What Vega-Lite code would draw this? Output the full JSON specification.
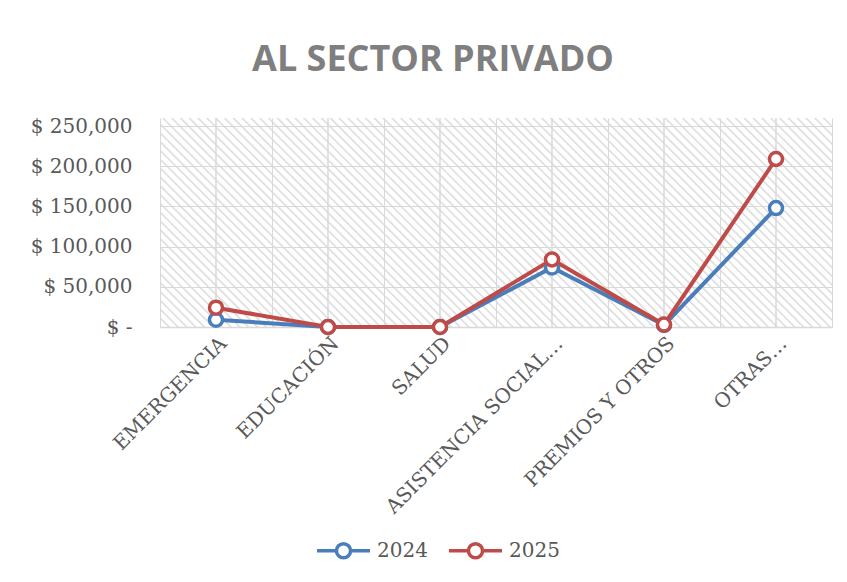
{
  "$schema": "https://vega.github.io/schema/vega-lite/v6.json",
  "width": 672,
  "height": 209,
  "autosize": "none",
  "padding": {"left": 160, "top": 118, "right": 15, "bottom": 255},
  "background": "white",
  "config": {
    "view": {
      "stroke": null,
      "fill": {"gradient": "linear", "x1": 0, "y1": 1, "x2": 1.1955, "y2": 0.6282, "stops": [
{"offset":0,"color":"#d8d8d8"},{"offset":0.003,"color":"#ffffff"},{"offset":0.0085,"color":"#ffffff"},
{"offset":0.01,"color":"#d8d8d8"},{"offset":0.013,"color":"#ffffff"},{"offset":0.0185,"color":"#ffffff"},
{"offset":0.02,"color":"#d8d8d8"},{"offset":0.023,"color":"#ffffff"},{"offset":0.0285,"color":"#ffffff"},
{"offset":0.03,"color":"#d8d8d8"},{"offset":0.033,"color":"#ffffff"},{"offset":0.0385,"color":"#ffffff"},
{"offset":0.04,"color":"#d8d8d8"},{"offset":0.043,"color":"#ffffff"},{"offset":0.0485,"color":"#ffffff"},
{"offset":0.05,"color":"#d8d8d8"},{"offset":0.053,"color":"#ffffff"},{"offset":0.0585,"color":"#ffffff"},
{"offset":0.06,"color":"#d8d8d8"},{"offset":0.063,"color":"#ffffff"},{"offset":0.0685,"color":"#ffffff"},
{"offset":0.07,"color":"#d8d8d8"},{"offset":0.073,"color":"#ffffff"},{"offset":0.0785,"color":"#ffffff"},
{"offset":0.08,"color":"#d8d8d8"},{"offset":0.083,"color":"#ffffff"},{"offset":0.0885,"color":"#ffffff"},
{"offset":0.09,"color":"#d8d8d8"},{"offset":0.093,"color":"#ffffff"},{"offset":0.0985,"color":"#ffffff"},
{"offset":0.1,"color":"#d8d8d8"},{"offset":0.103,"color":"#ffffff"},{"offset":0.1085,"color":"#ffffff"},
{"offset":0.11,"color":"#d8d8d8"},{"offset":0.113,"color":"#ffffff"},{"offset":0.1185,"color":"#ffffff"},
{"offset":0.12,"color":"#d8d8d8"},{"offset":0.123,"color":"#ffffff"},{"offset":0.1285,"color":"#ffffff"},
{"offset":0.13,"color":"#d8d8d8"},{"offset":0.133,"color":"#ffffff"},{"offset":0.1385,"color":"#ffffff"},
{"offset":0.14,"color":"#d8d8d8"},{"offset":0.143,"color":"#ffffff"},{"offset":0.1485,"color":"#ffffff"},
{"offset":0.15,"color":"#d8d8d8"},{"offset":0.153,"color":"#ffffff"},{"offset":0.1585,"color":"#ffffff"},
{"offset":0.16,"color":"#d8d8d8"},{"offset":0.163,"color":"#ffffff"},{"offset":0.1685,"color":"#ffffff"},
{"offset":0.17,"color":"#d8d8d8"},{"offset":0.173,"color":"#ffffff"},{"offset":0.1785,"color":"#ffffff"},
{"offset":0.18,"color":"#d8d8d8"},{"offset":0.183,"color":"#ffffff"},{"offset":0.1885,"color":"#ffffff"},
{"offset":0.19,"color":"#d8d8d8"},{"offset":0.193,"color":"#ffffff"},{"offset":0.1985,"color":"#ffffff"},
{"offset":0.2,"color":"#d8d8d8"},{"offset":0.203,"color":"#ffffff"},{"offset":0.2085,"color":"#ffffff"},
{"offset":0.21,"color":"#d8d8d8"},{"offset":0.213,"color":"#ffffff"},{"offset":0.2185,"color":"#ffffff"},
{"offset":0.22,"color":"#d8d8d8"},{"offset":0.223,"color":"#ffffff"},{"offset":0.2285,"color":"#ffffff"},
{"offset":0.23,"color":"#d8d8d8"},{"offset":0.233,"color":"#ffffff"},{"offset":0.2385,"color":"#ffffff"},
{"offset":0.24,"color":"#d8d8d8"},{"offset":0.243,"color":"#ffffff"},{"offset":0.2485,"color":"#ffffff"},
{"offset":0.25,"color":"#d8d8d8"},{"offset":0.253,"color":"#ffffff"},{"offset":0.2585,"color":"#ffffff"},
{"offset":0.26,"color":"#d8d8d8"},{"offset":0.263,"color":"#ffffff"},{"offset":0.2685,"color":"#ffffff"},
{"offset":0.27,"color":"#d8d8d8"},{"offset":0.273,"color":"#ffffff"},{"offset":0.2785,"color":"#ffffff"},
{"offset":0.28,"color":"#d8d8d8"},{"offset":0.283,"color":"#ffffff"},{"offset":0.2885,"color":"#ffffff"},
{"offset":0.29,"color":"#d8d8d8"},{"offset":0.293,"color":"#ffffff"},{"offset":0.2985,"color":"#ffffff"},
{"offset":0.3,"color":"#d8d8d8"},{"offset":0.303,"color":"#ffffff"},{"offset":0.3085,"color":"#ffffff"},
{"offset":0.31,"color":"#d8d8d8"},{"offset":0.313,"color":"#ffffff"},{"offset":0.3185,"color":"#ffffff"},
{"offset":0.32,"color":"#d8d8d8"},{"offset":0.323,"color":"#ffffff"},{"offset":0.3285,"color":"#ffffff"},
{"offset":0.33,"color":"#d8d8d8"},{"offset":0.333,"color":"#ffffff"},{"offset":0.3385,"color":"#ffffff"},
{"offset":0.34,"color":"#d8d8d8"},{"offset":0.343,"color":"#ffffff"},{"offset":0.3485,"color":"#ffffff"},
{"offset":0.35,"color":"#d8d8d8"},{"offset":0.353,"color":"#ffffff"},{"offset":0.3585,"color":"#ffffff"},
{"offset":0.36,"color":"#d8d8d8"},{"offset":0.363,"color":"#ffffff"},{"offset":0.3685,"color":"#ffffff"},
{"offset":0.37,"color":"#d8d8d8"},{"offset":0.373,"color":"#ffffff"},{"offset":0.3785,"color":"#ffffff"},
{"offset":0.38,"color":"#d8d8d8"},{"offset":0.383,"color":"#ffffff"},{"offset":0.3885,"color":"#ffffff"},
{"offset":0.39,"color":"#d8d8d8"},{"offset":0.393,"color":"#ffffff"},{"offset":0.3985,"color":"#ffffff"},
{"offset":0.4,"color":"#d8d8d8"},{"offset":0.403,"color":"#ffffff"},{"offset":0.4085,"color":"#ffffff"},
{"offset":0.41,"color":"#d8d8d8"},{"offset":0.413,"color":"#ffffff"},{"offset":0.4185,"color":"#ffffff"},
{"offset":0.42,"color":"#d8d8d8"},{"offset":0.423,"color":"#ffffff"},{"offset":0.4285,"color":"#ffffff"},
{"offset":0.43,"color":"#d8d8d8"},{"offset":0.433,"color":"#ffffff"},{"offset":0.4385,"color":"#ffffff"},
{"offset":0.44,"color":"#d8d8d8"},{"offset":0.443,"color":"#ffffff"},{"offset":0.4485,"color":"#ffffff"},
{"offset":0.45,"color":"#d8d8d8"},{"offset":0.453,"color":"#ffffff"},{"offset":0.4585,"color":"#ffffff"},
{"offset":0.46,"color":"#d8d8d8"},{"offset":0.463,"color":"#ffffff"},{"offset":0.4685,"color":"#ffffff"},
{"offset":0.47,"color":"#d8d8d8"},{"offset":0.473,"color":"#ffffff"},{"offset":0.4785,"color":"#ffffff"},
{"offset":0.48,"color":"#d8d8d8"},{"offset":0.483,"color":"#ffffff"},{"offset":0.4885,"color":"#ffffff"},
{"offset":0.49,"color":"#d8d8d8"},{"offset":0.493,"color":"#ffffff"},{"offset":0.4985,"color":"#ffffff"},
{"offset":0.5,"color":"#d8d8d8"},{"offset":0.503,"color":"#ffffff"},{"offset":0.5085,"color":"#ffffff"},
{"offset":0.51,"color":"#d8d8d8"},{"offset":0.513,"color":"#ffffff"},{"offset":0.5185,"color":"#ffffff"},
{"offset":0.52,"color":"#d8d8d8"},{"offset":0.523,"color":"#ffffff"},{"offset":0.5285,"color":"#ffffff"},
{"offset":0.53,"color":"#d8d8d8"},{"offset":0.533,"color":"#ffffff"},{"offset":0.5385,"color":"#ffffff"},
{"offset":0.54,"color":"#d8d8d8"},{"offset":0.543,"color":"#ffffff"},{"offset":0.5485,"color":"#ffffff"},
{"offset":0.55,"color":"#d8d8d8"},{"offset":0.553,"color":"#ffffff"},{"offset":0.5585,"color":"#ffffff"},
{"offset":0.56,"color":"#d8d8d8"},{"offset":0.563,"color":"#ffffff"},{"offset":0.5685,"color":"#ffffff"},
{"offset":0.57,"color":"#d8d8d8"},{"offset":0.573,"color":"#ffffff"},{"offset":0.5785,"color":"#ffffff"},
{"offset":0.58,"color":"#d8d8d8"},{"offset":0.583,"color":"#ffffff"},{"offset":0.5885,"color":"#ffffff"},
{"offset":0.59,"color":"#d8d8d8"},{"offset":0.593,"color":"#ffffff"},{"offset":0.5985,"color":"#ffffff"},
{"offset":0.6,"color":"#d8d8d8"},{"offset":0.603,"color":"#ffffff"},{"offset":0.6085,"color":"#ffffff"},
{"offset":0.61,"color":"#d8d8d8"},{"offset":0.613,"color":"#ffffff"},{"offset":0.6185,"color":"#ffffff"},
{"offset":0.62,"color":"#d8d8d8"},{"offset":0.623,"color":"#ffffff"},{"offset":0.6285,"color":"#ffffff"},
{"offset":0.63,"color":"#d8d8d8"},{"offset":0.633,"color":"#ffffff"},{"offset":0.6385,"color":"#ffffff"},
{"offset":0.64,"color":"#d8d8d8"},{"offset":0.643,"color":"#ffffff"},{"offset":0.6485,"color":"#ffffff"},
{"offset":0.65,"color":"#d8d8d8"},{"offset":0.653,"color":"#ffffff"},{"offset":0.6585,"color":"#ffffff"},
{"offset":0.66,"color":"#d8d8d8"},{"offset":0.663,"color":"#ffffff"},{"offset":0.6685,"color":"#ffffff"},
{"offset":0.67,"color":"#d8d8d8"},{"offset":0.673,"color":"#ffffff"},{"offset":0.6785,"color":"#ffffff"},
{"offset":0.68,"color":"#d8d8d8"},{"offset":0.683,"color":"#ffffff"},{"offset":0.6885,"color":"#ffffff"},
{"offset":0.69,"color":"#d8d8d8"},{"offset":0.693,"color":"#ffffff"},{"offset":0.6985,"color":"#ffffff"},
{"offset":0.7,"color":"#d8d8d8"},{"offset":0.703,"color":"#ffffff"},{"offset":0.7085,"color":"#ffffff"},
{"offset":0.71,"color":"#d8d8d8"},{"offset":0.713,"color":"#ffffff"},{"offset":0.7185,"color":"#ffffff"},
{"offset":0.72,"color":"#d8d8d8"},{"offset":0.723,"color":"#ffffff"},{"offset":0.7285,"color":"#ffffff"},
{"offset":0.73,"color":"#d8d8d8"},{"offset":0.733,"color":"#ffffff"},{"offset":0.7385,"color":"#ffffff"},
{"offset":0.74,"color":"#d8d8d8"},{"offset":0.743,"color":"#ffffff"},{"offset":0.7485,"color":"#ffffff"},
{"offset":0.75,"color":"#d8d8d8"},{"offset":0.753,"color":"#ffffff"},{"offset":0.7585,"color":"#ffffff"},
{"offset":0.76,"color":"#d8d8d8"},{"offset":0.763,"color":"#ffffff"},{"offset":0.7685,"color":"#ffffff"},
{"offset":0.77,"color":"#d8d8d8"},{"offset":0.773,"color":"#ffffff"},{"offset":0.7785,"color":"#ffffff"},
{"offset":0.78,"color":"#d8d8d8"},{"offset":0.783,"color":"#ffffff"},{"offset":0.7885,"color":"#ffffff"},
{"offset":0.79,"color":"#d8d8d8"},{"offset":0.793,"color":"#ffffff"},{"offset":0.7985,"color":"#ffffff"},
{"offset":0.8,"color":"#d8d8d8"},{"offset":0.803,"color":"#ffffff"},{"offset":0.8085,"color":"#ffffff"},
{"offset":0.81,"color":"#d8d8d8"},{"offset":0.813,"color":"#ffffff"},{"offset":0.8185,"color":"#ffffff"},
{"offset":0.82,"color":"#d8d8d8"},{"offset":0.823,"color":"#ffffff"},{"offset":0.8285,"color":"#ffffff"},
{"offset":0.83,"color":"#d8d8d8"},{"offset":0.833,"color":"#ffffff"},{"offset":0.8385,"color":"#ffffff"},
{"offset":0.84,"color":"#d8d8d8"},{"offset":0.843,"color":"#ffffff"},{"offset":0.8485,"color":"#ffffff"},
{"offset":0.85,"color":"#d8d8d8"},{"offset":0.853,"color":"#ffffff"},{"offset":0.8585,"color":"#ffffff"},
{"offset":0.86,"color":"#d8d8d8"},{"offset":0.863,"color":"#ffffff"},{"offset":0.8685,"color":"#ffffff"},
{"offset":0.87,"color":"#d8d8d8"},{"offset":0.873,"color":"#ffffff"},{"offset":0.8785,"color":"#ffffff"},
{"offset":0.88,"color":"#d8d8d8"},{"offset":0.883,"color":"#ffffff"},{"offset":0.8885,"color":"#ffffff"},
{"offset":0.89,"color":"#d8d8d8"},{"offset":0.893,"color":"#ffffff"},{"offset":0.8985,"color":"#ffffff"},
{"offset":0.9,"color":"#d8d8d8"},{"offset":0.903,"color":"#ffffff"},{"offset":0.9085,"color":"#ffffff"},
{"offset":0.91,"color":"#d8d8d8"},{"offset":0.913,"color":"#ffffff"},{"offset":0.9185,"color":"#ffffff"},
{"offset":0.92,"color":"#d8d8d8"},{"offset":0.923,"color":"#ffffff"},{"offset":0.9285,"color":"#ffffff"},
{"offset":0.93,"color":"#d8d8d8"},{"offset":0.933,"color":"#ffffff"},{"offset":0.9385,"color":"#ffffff"},
{"offset":0.94,"color":"#d8d8d8"},{"offset":0.943,"color":"#ffffff"},{"offset":0.9485,"color":"#ffffff"},
{"offset":0.95,"color":"#d8d8d8"},{"offset":0.953,"color":"#ffffff"},{"offset":0.9585,"color":"#ffffff"},
{"offset":0.96,"color":"#d8d8d8"},{"offset":0.963,"color":"#ffffff"},{"offset":0.9685,"color":"#ffffff"},
{"offset":0.97,"color":"#d8d8d8"},{"offset":0.973,"color":"#ffffff"},{"offset":0.9785,"color":"#ffffff"},
{"offset":0.98,"color":"#d8d8d8"},{"offset":0.983,"color":"#ffffff"},{"offset":0.9885,"color":"#ffffff"},
{"offset":0.99,"color":"#d8d8d8"},{"offset":0.993,"color":"#ffffff"},{"offset":0.9985,"color":"#ffffff"},
{"offset":1,"color":"#d8d8d8"}
      ]}
    }
  },
  "title": {
    "text": "AL SECTOR PRIVADO",
    "font": "Open Sans",
    "fontSize": 36,
    "fontWeight": "bold",
    "color": "#7f7f7f",
    "anchor": "middle",
    "frame": "group",
    "dx": -63,
    "offset": 9,
    "baseline": "alphabetic"
  },
  "data": {
    "values": [
      {"cat": "EMERGENCIA", "year": "2024", "value": 9000},
      {"cat": "EDUCACIÓN", "year": "2024", "value": 0},
      {"cat": "SALUD", "year": "2024", "value": 0},
      {"cat": "ASISTENCIA SOCIAL…", "year": "2024", "value": 74000},
      {"cat": "PREMIOS Y OTROS", "year": "2024", "value": 2500},
      {"cat": "OTRAS…", "year": "2024", "value": 148000},
      {"cat": "EMERGENCIA", "year": "2025", "value": 24000},
      {"cat": "EDUCACIÓN", "year": "2025", "value": 0},
      {"cat": "SALUD", "year": "2025", "value": 0},
      {"cat": "ASISTENCIA SOCIAL…", "year": "2025", "value": 84000},
      {"cat": "PREMIOS Y OTROS", "year": "2025", "value": 3000},
      {"cat": "OTRAS…", "year": "2025", "value": 209000}
    ]
  },
  "encoding": {
    "x": {
      "field": "cat",
      "type": "nominal",
      "scale": {"type": "band", "paddingInner": 0, "paddingOuter": 0,
        "domain": ["EMERGENCIA", "EDUCACIÓN", "SALUD", "ASISTENCIA SOCIAL…", "PREMIOS Y OTROS", "OTRAS…"]},
      "axis": {
        "title": null,
        "labelAngle": -45,
        "labelAlign": "right",
        "labelBaseline": "top",
        "labelFont": "DejaVu Serif",
        "labelFontSize": 20,
        "labelColor": "#595959",
        "labelPadding": 6,
        "labelLimit": 400,
        "labelOverlap": false,
        "ticks": false,
        "domainColor": "#d9d9d9",
        "domainWidth": 1.5,
        "grid": true,
        "gridColor": "#d9d9d9",
        "gridWidth": 1,
        "tickBand": "extent"
      }
    }
  },
  "layer": [
    {
      "mark": {"type": "rule", "color": "#d9d9d9", "strokeWidth": 1},
      "encoding": {}
    },
    {
      "mark": {"type": "line", "strokeWidth": 4},
      "encoding": {
        "y": {
          "field": "value",
          "type": "quantitative",
          "scale": {"domain": [0, 250000]},
          "axis": {
            "title": null,
            "values": [0, 50000, 100000, 150000, 200000, 250000],
            "labelExpr": "datum.value == 0 ? '$ -' : '$ ' + format(datum.value, ',')",
            "labelFont": "DejaVu Serif",
            "labelFontSize": 20,
            "labelColor": "#595959",
            "labelPadding": 28,
            "ticks": false,
            "domain": false,
            "grid": true,
            "gridColor": "#d9d9d9",
            "gridWidth": 1
          }
        },
        "color": {
          "field": "year",
          "type": "nominal",
          "scale": {"domain": ["2024", "2025"], "range": ["#4a7ebb", "#be4b48"]},
          "legend": {
            "orient": "none",
            "legendX": 164,
            "legendY": 413,
            "direction": "horizontal",
            "title": null,
            "labelFont": "DejaVu Serif",
            "labelFontSize": 20,
            "labelColor": "#595959",
            "symbolType": "M-1.5,0L-0.4,0M0.4,0L1.5,0M-0.4,0A0.4,0.4,0,1,1,0.4,0A0.4,0.4,0,1,1,-0.4,0Z",
            "symbolSize": 1250,
            "symbolStrokeWidth": 3.5,
            "symbolFillColor": "white",
            "labelOffset": 14,
            "columnPadding": 13
          }
        }
      }
    },
    {
      "mark": {"type": "point", "shape": "circle", "filled": false, "fill": "white", "fillOpacity": 1, "opacity": 1, "strokeWidth": 3.5, "size": 170},
      "encoding": {
        "y": {"field": "value", "type": "quantitative"},
        "color": {"field": "year", "type": "nominal"}
      }
    }
  ]
}
